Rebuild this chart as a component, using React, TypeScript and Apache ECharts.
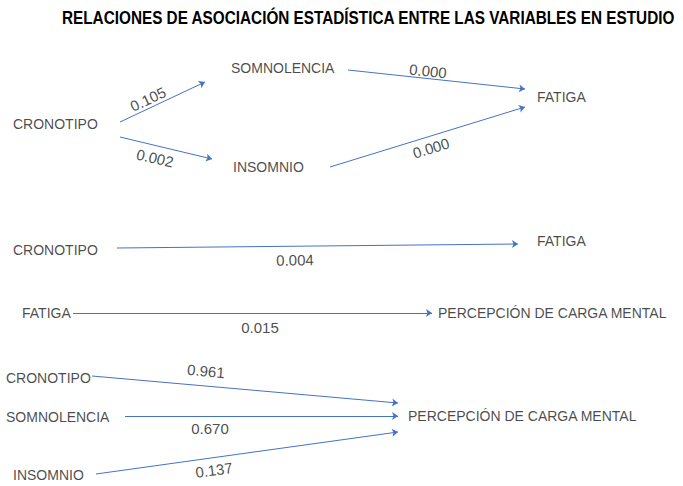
import React, { useEffect, useRef } from "react";
import * as echarts from "echarts";

// ---- Data ----
const titleText = "RELACIONES DE ASOCIACIÓN ESTADÍSTICA ENTRE LAS VARIABLES EN ESTUDIO";

// Node labels (one entry per drawn label)
const nodeNames = [
  "CRONOTIPO", "SOMNOLENCIA", "INSOMNIO", "FATIGA",
  "CRONOTIPO", "FATIGA",
  "FATIGA", "PERCEPCIÓN DE CARGA MENTAL",
  "CRONOTIPO", "SOMNOLENCIA", "INSOMNIO", "PERCEPCIÓN DE CARGA MENTAL",
];

// Edges: index of source node, index of target node, p-value
const edgeFrom = [0, 0, 1, 2, 4, 6, 8, 9, 10];
const edgeTo = [1, 2, 3, 3, 5, 7, 11, 11, 11];
const edgeP = ["0.105", "0.002", "0.000", "0.000", "0.004", "0.015", "0.961", "0.670", "0.137"];

// ---- Layout (pixel positions, kept separate from data) ----
const nodePos: [number, number][] = [
  [13, 124], [231, 68], [233, 167], [537, 97],
  [13, 250], [537, 241],
  [22, 313], [438, 313],
  [6, 378], [6, 417], [13, 475], [408, 416],
];
const edgePath: [number, number, number, number][] = [
  [120, 122, 205, 82],
  [120, 137, 212, 159],
  [348, 70, 525, 89],
  [330, 167, 525, 107],
  [117, 248, 518, 244],
  [73, 313, 432, 313],
  [92, 376, 398, 403],
  [125, 416, 398, 416],
  [96, 474, 398, 432],
];
const edgeLabelPos: [number, number][] = [
  [148, 99], [155, 158], [428, 71], [431, 148],
  [295, 260], [260, 327], [206, 371], [210, 428], [214, 470],
];

const FONT = "'Liberation Sans', Arial, sans-serif";
const BLUE = "#4472C4";
const TEXT = "#1a1a1a";

export default function App() {
  const ref = useRef<HTMLDivElement>(null);
  useEffect(() => {
    if (!ref.current) return;
    const chart = echarts.init(ref.current, null, { renderer: "svg" });

    const nodeData = nodeNames.map((n, i) => ({
      value: nodePos[i],
      name: n,
    }));

    const lineData = edgeFrom.map((f, i) => {
      const p = edgePath[i];
      return {
        name: nodeNames[f] + " → " + nodeNames[edgeTo[i]],
        coords: [[p[0], p[1]], [p[2], p[3]]],
      };
    });

    const edgeLabelData = edgeP.map((v, i) => {
      const p = edgePath[i];
      const ang = Math.round((-Math.atan2(p[3] - p[1], p[2] - p[0]) * 180) / Math.PI);
      return {
        value: edgeLabelPos[i],
        name: v,
        label: { rotate: ang },
      };
    });

    chart.setOption({
      animation: false,
      backgroundColor: "#ffffff",
      graphic: [
        {
          type: "text",
          x: 62,
          y: 18,
          scaleX: 0.875,
          style: {
            text: titleText,
            fill: "#000",
            font: "bold 17.5px " + FONT,
            align: "left",
            verticalAlign: "middle",
          },
          silent: true,
        },
      ],
      grid: { left: 0, right: 0, top: 0, bottom: 0 },
      xAxis: { type: "value", min: 0, max: 683, show: false },
      yAxis: { type: "value", min: 0, max: 486, inverse: true, show: false },
      series: [
        {
          type: "lines",
          coordinateSystem: "cartesian2d",
          symbol: ["none", "arrow"],
          symbolSize: 6,
          lineStyle: { color: BLUE, width: 1, opacity: 1 },
          data: lineData,
          silent: true,
        },
        {
          type: "scatter",
          symbolSize: 0,
          data: nodeData,
          label: {
            show: true,
            position: "right",
            distance: 0,
            formatter: "{b}",
            fontFamily: FONT,
            fontSize: 14,
            color: TEXT,
          },
          silent: true,
        },
        {
          type: "scatter",
          symbolSize: 0,
          data: edgeLabelData,
          label: {
            show: true,
            position: "inside",
            formatter: "{b}",
            fontFamily: FONT,
            fontSize: 15,
            color: TEXT,
          },
          silent: true,
        },
      ],
    });
    return () => chart.dispose();
  }, []);
  return (
    <div
      ref={ref}
      style={{ position: "fixed", left: 0, top: 0, width: 683, height: 486, background: "#fff" }}
    />
  );
}
